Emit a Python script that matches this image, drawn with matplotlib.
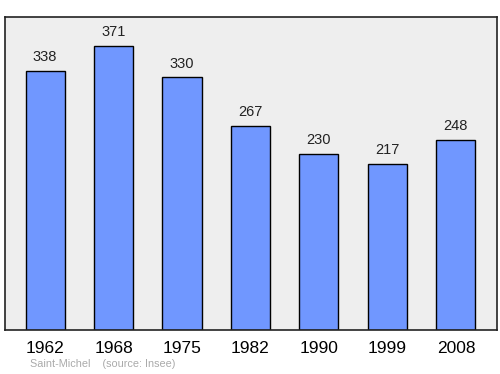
import matplotlib
matplotlib.use("Agg")
import matplotlib.pyplot as plt

years = ["1962", "1968", "1975", "1982", "1990", "1999", "2008"]
population = [338, 371, 330, 267, 230, 217, 248]

plt.rcParams['font.family'] = ['Liberation Sans', 'DejaVu Sans']
fig = plt.figure(figsize=(5, 3.74), dpi=100)
ax = fig.add_axes([5/500, 1-330/374, 492/500, 313/374])
ax.set_facecolor("#eeeeee")
x = list(range(len(years)))
ax.bar(x, population, width=0.57, color="#7097ff", edgecolor="#000000", linewidth=1.0, zorder=2)
for xi, v in zip(x, population):
    ax.text(xi, v + 9, str(v), ha="center", va="bottom", fontsize=10.5, color="#222222")
ax.set_xlim(-0.585, 6.6)
ax.set_ylim(0, 409)
ax.set_yticks([])
ax.set_xticks(x)
ax.set_xticklabels(years, fontsize=12.5)
ax.tick_params(axis="x", length=0, pad=8)
for s in ax.spines.values():
    s.set_linewidth(1.2)
    s.set_color("#222222")
fig.text(30/500, 1-364/374, "Saint-Michel    (source: Insee)", fontsize=7.8, color="#aaaaaa", va="center")
fig.savefig("out.png", dpi=100)
